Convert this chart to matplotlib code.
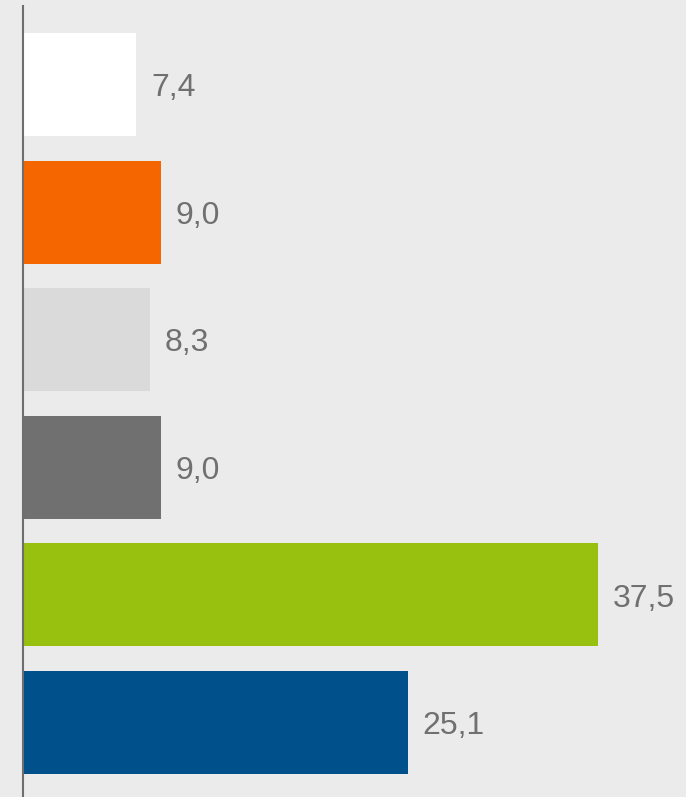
import matplotlib
matplotlib.use("Agg")
import matplotlib.pyplot as plt

values = [7.4, 9.0, 8.3, 9.0, 37.5, 25.1]
labels = ["7,4", "9,0", "8,3", "9,0", "37,5", "25,1"]
colors = ["#FFFFFF", "#F56600", "#DADADA", "#707070", "#97C00F", "#00508C"]

W, H = 686, 797
fig = plt.figure(figsize=(W / 100, H / 100), dpi=100)
fig.patch.set_facecolor("#EBEBEB")

left_px, top_px = 23, 6
ax = fig.add_axes([left_px / W, 0, 1 - left_px / W, (H - top_px) / H])
ax.set_facecolor("#EBEBEB")

pos = list(range(len(values)))
ax.barh(pos, values, height=0.807, color=colors, left=0)

step = 127.6
c0 = 84.5
ax.set_ylim((H - c0) / step, (top_px - c0) / step)
ax.set_xlim(0, (W - left_px) / 15.33)

for p, v, t in zip(pos, values, labels):
    ax.annotate(t, xy=(v, p), xytext=(10.5, -8.4), textcoords="offset points",
                ha="left", va="baseline", fontsize=23, color="#707070",
                family=["Liberation Sans", "DejaVu Sans"])

for s in ["top", "right", "bottom"]:
    ax.spines[s].set_visible(False)
ax.spines["left"].set_color("#6E6E6E")
ax.spines["left"].set_linewidth(1.5)
ax.set_xticks([])
ax.set_yticks([])

fig.savefig("out.png", dpi=100, facecolor=fig.get_facecolor())
